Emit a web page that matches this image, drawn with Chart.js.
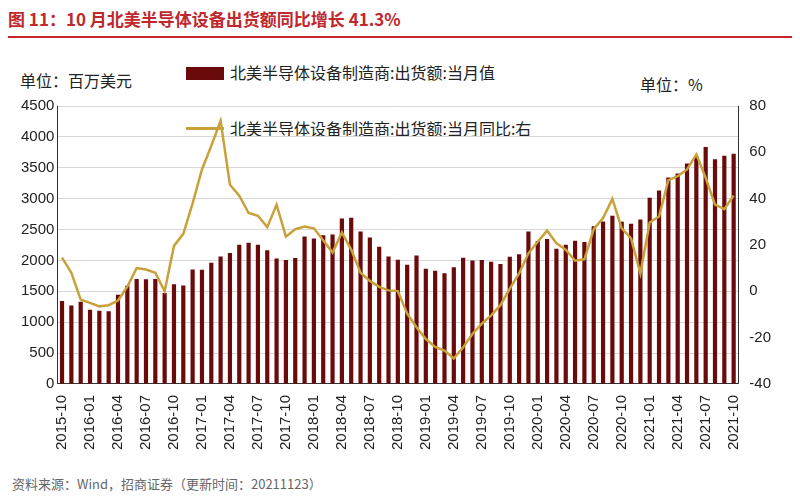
<!DOCTYPE html>
<html><head><meta charset="utf-8">
<script src="https://cdn.jsdelivr.net/npm/chart.js@4/dist/chart.umd.min.js"></script>
<style>
body{margin:0;width:800px;height:500px;background:#fff;font-family:"Noto Sans CJK SC",sans-serif;position:relative;overflow:hidden}
#title{position:absolute;left:8px;top:6px;color:#c0282d;font-size:17px;font-weight:bold}
#rule{position:absolute;left:8px;right:8px;top:36px;border-top:2px solid #c0282d}
.t{position:absolute;font-size:16px;color:#222;white-space:nowrap}
#wrap{position:absolute;left:0;top:90px;width:790px;height:363px}
</style></head><body>
<div id="title">图 11：10 月北美半导体设备出货额同比增长 41.3%</div>
<div id="rule"></div>
<div class="t" style="left:20px;top:68px">单位：百万美元</div>
<div class="t" style="left:640px;top:72px">单位：%</div>
<div class="t" style="left:186px;top:60px"><span style="display:inline-block;width:38px;height:13px;background:#6b0a0a;vertical-align:-1px;margin-right:6px"></span>北美半导体设备制造商:出货额:当月值</div>
<div class="t" style="left:186px;top:116px"><span style="display:inline-block;width:38px;height:3px;background:#c9a13a;vertical-align:5px;margin-right:6px"></span>北美半导体设备制造商:出货额:当月同比:右</div>
<div class="t" style="left:12px;top:474px;font-size:13px;color:#666">资料来源：Wind，招商证券（更新时间：20211123）</div>
<div id="wrap"><canvas id="c"></canvas></div>
<script>
const months = [
  '2015-10','2015-11','2015-12',
  '2016-01','2016-02','2016-03','2016-04','2016-05','2016-06','2016-07','2016-08','2016-09','2016-10','2016-11','2016-12',
  '2017-01','2017-02','2017-03','2017-04','2017-05','2017-06','2017-07','2017-08','2017-09','2017-10','2017-11','2017-12',
  '2018-01','2018-02','2018-03','2018-04','2018-05','2018-06','2018-07','2018-08','2018-09','2018-10','2018-11','2018-12',
  '2019-01','2019-02','2019-03','2019-04','2019-05','2019-06','2019-07','2019-08','2019-09','2019-10','2019-11','2019-12',
  '2020-01','2020-02','2020-03','2020-04','2020-05','2020-06','2020-07','2020-08','2020-09','2020-10','2020-11','2020-12',
  '2021-01','2021-02','2021-03','2021-04','2021-05','2021-06','2021-07','2021-08','2021-09','2021-10'
];

// 出货额 当月值（百万美元）
const shipments = [
  1342, 1272, 1331, 1201, 1185, 1179, 1446, 1590, 1700, 1696, 1700, 1472, 1614, 1592,
  1853, 1848, 1962, 2065, 2120, 2255, 2288, 2255, 2163, 2033, 2005, 2038, 2386, 2353,
  2408, 2418, 2679, 2690, 2467, 2370, 2223, 2065, 2010, 1928, 2081, 1864, 1831, 1793,
  1891, 2043, 2000, 2005, 1978, 1940, 2060, 2098, 2467, 2315, 2348, 2190, 2255, 2320,
  2300, 2554, 2630, 2723, 2624, 2592, 2663, 3016, 3130, 3342, 3407, 3570, 3690, 3837,
  3636, 3695, 3728
];

// 出货额 当月同比（%）
const yoy = [
  14.5, 8, -3.6, -5, -6.5, -6, -4, 2, 10, 9.4, 8, 0, 19.6, 24.8,
  38, 52.6, 62.8, 73.6, 46, 41.3, 33.8, 32.6, 27.7, 37.4, 23.6, 26.8, 28, 27.2,
  22, 16.7, 25.4, 18, 8, 4.5, 1.9, 0.4, 0.1, -9.7, -15.5, -20.6, -24, -25.6,
  -29, -24.2, -18.4, -14, -10.4, -6, 1.2, 7.7, 16.4, 21.4, 26.2, 20.7, 18, 13.2,
  13.8, 26.8, 31.6, 39.9, 27.2, 22.9, 7.7, 29.7, 32.3, 48, 49.7, 52.6, 59.1, 49,
  37.4, 35.5, 41.3
];

const FONT = { family: 'Liberation Sans, Arial, sans-serif', size: 15 };

new Chart(document.getElementById('c'), {
  data: {
    labels: months,
    datasets: [
      { type: 'line', data: yoy, yAxisID: 'y1', borderColor: '#c9a13a', borderWidth: 2.5,
        pointRadius: 0, tension: 0, order: 0 },
      { type: 'bar', data: shipments, yAxisID: 'y', backgroundColor: '#6b0a0a',
        categoryPercentage: 1, barPercentage: 0.45, order: 1 }
    ]
  },
  options: {
    responsive: true,
    maintainAspectRatio: false,
    animation: false,
    layout: { padding: { left: 18, right: 16, top: 16 } },
    plugins: { legend: { display: false }, tooltip: { enabled: false } },
    scales: {
      x: {
        grid: { display: false, drawTicks: true },
        border: { color: '#333' },
        ticks: {
          autoSkip: false, maxRotation: 90, minRotation: 90, font: FONT, color: '#222',
          callback: (v, i) => (i % 3 === 0 ? months[i] : '')
        }
      },
      y: {
        position: 'left', min: 0, max: 4500,
        ticks: { stepSize: 500, font: FONT, color: '#222', callback: v => String(v) },
        border: { color: '#333' },
        grid: { color: '#d8d8d8', borderDash: [4, 4], drawTicks: false }
      },
      y1: {
        position: 'right', min: -40, max: 80,
        ticks: { stepSize: 20, font: FONT, color: '#222' },
        border: { color: '#333' },
        grid: { display: false }
      }
    }
  }
});
</script>
</body></html>
